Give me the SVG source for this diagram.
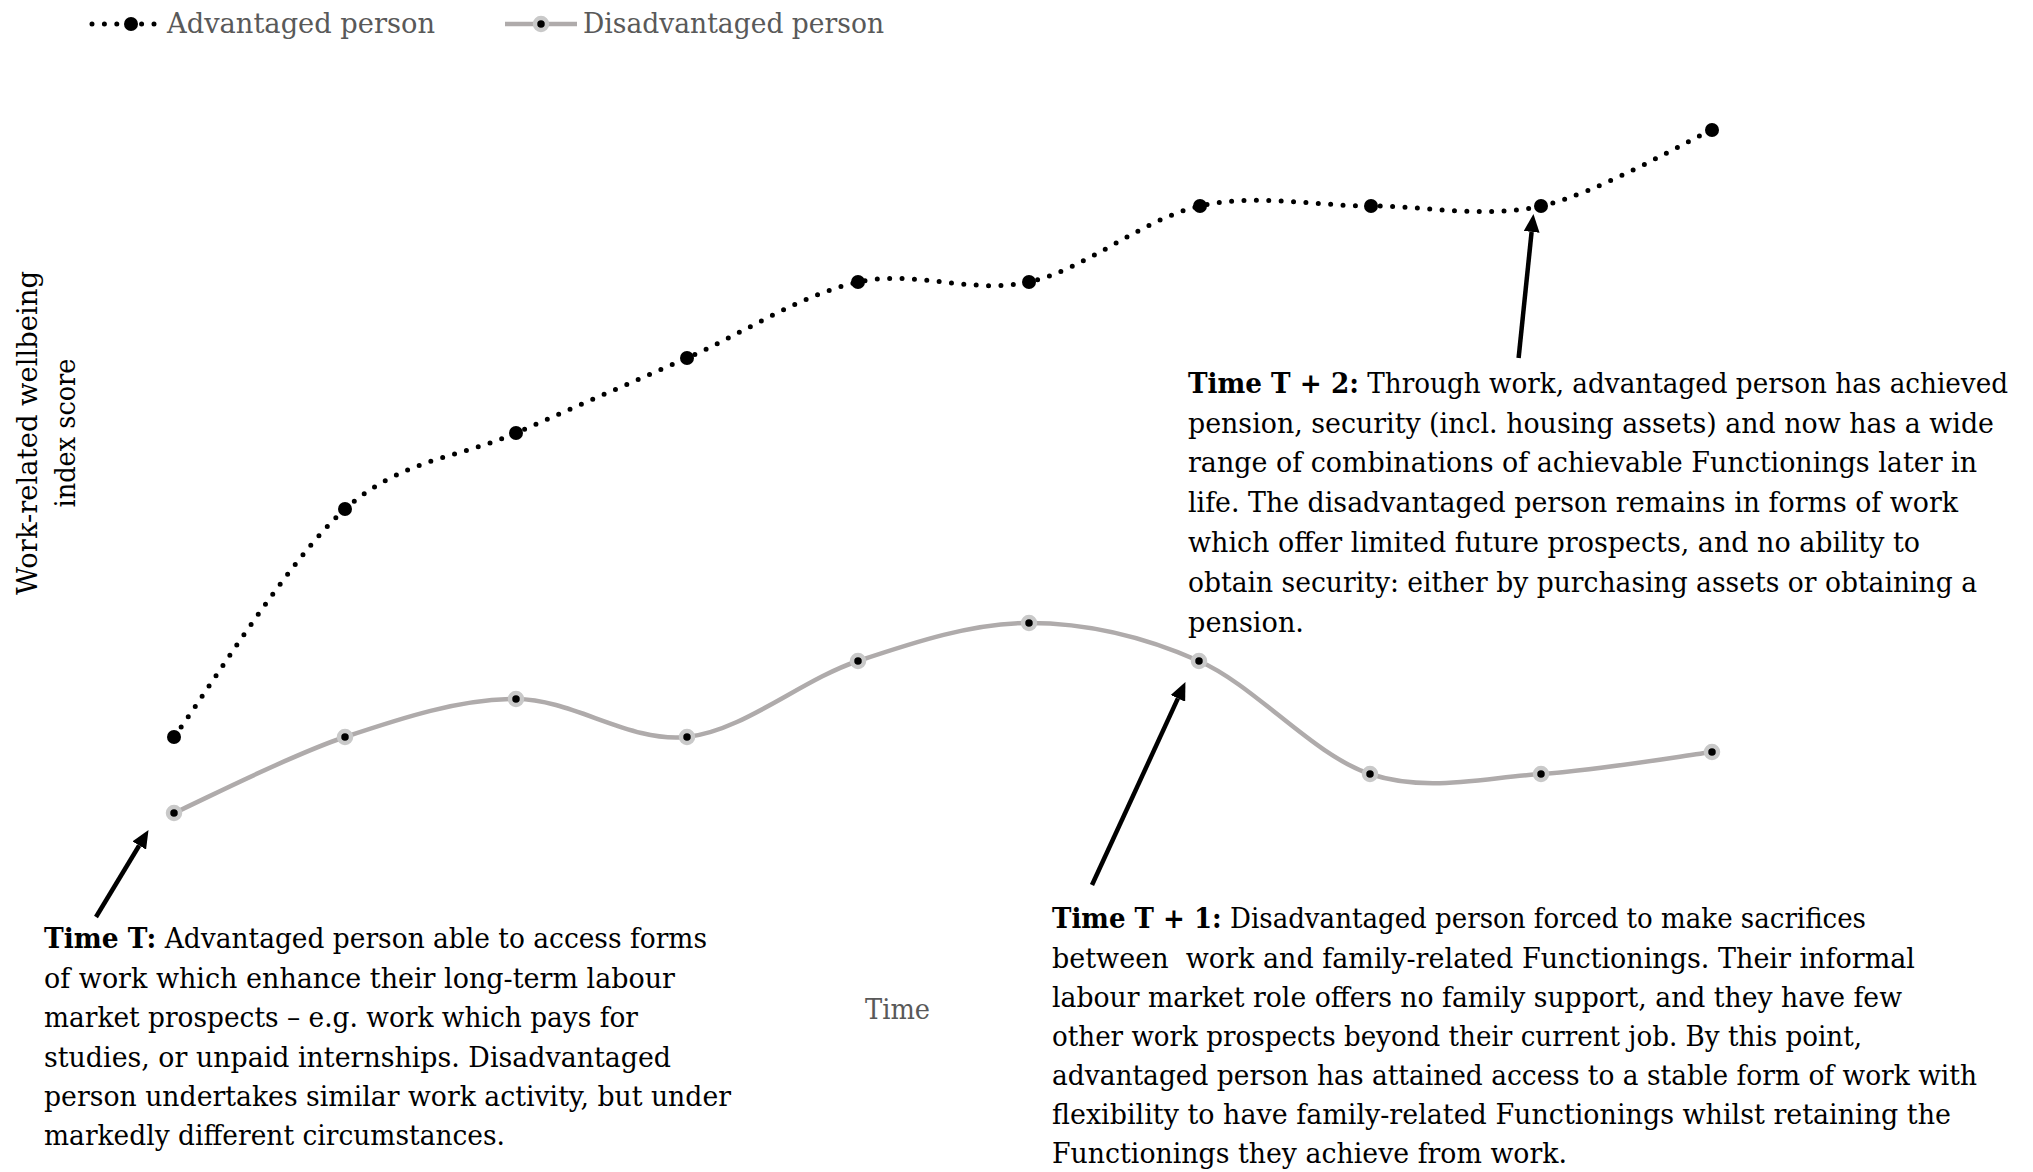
<svg xmlns="http://www.w3.org/2000/svg" width="2033" height="1172" viewBox="0 0 2033 1172">
<defs>
<style>
.t{font-family:"DejaVu Serif","Liberation Serif",serif;font-size:27px;fill:#000}
.b{font-weight:bold}
.g{fill:#595959;font-size:28px}
.adv{fill:none;stroke:#000;stroke-width:5;stroke-linecap:round;stroke-dasharray:0 12.4}
.dis{fill:none;stroke:#AFABAB;stroke-width:4.5}
.am{fill:#000}
.dm{fill:#000;stroke:#C9C9C9;stroke-width:4.5}
.arr{stroke:#000;stroke-width:4.5;fill:none}
</style>
<marker id="ah" markerUnits="userSpaceOnUse" markerWidth="20" markerHeight="16" refX="0" refY="8" orient="auto">
<path d="M0,0 L18,8 L0,16 z" fill="#000"/>
</marker>
</defs>
<rect width="2033" height="1172" fill="#fff"/>

<g id="legend">
<line class="adv" x1="92" y1="24" x2="164" y2="24"/>
<circle class="am" cx="131" cy="24" r="7"/>
<text class="t g" x="167" y="33" textLength="268" lengthAdjust="spacingAndGlyphs">Advantaged person</text>
<line class="dis" x1="505" y1="24" x2="577" y2="24"/>
<circle class="dm" cx="541" cy="24" r="6"/>
<text class="t g" x="583" y="33" textLength="301" lengthAdjust="spacingAndGlyphs">Disadvantaged person</text>
</g>

<g id="axis-y">
<text class="t" font-size="28" transform="translate(37,433) rotate(-90)" text-anchor="middle" textLength="324" lengthAdjust="spacingAndGlyphs">Work-related wellbeing</text>
<text class="t" font-size="28" transform="translate(75,433) rotate(-90)" text-anchor="middle" textLength="149" lengthAdjust="spacingAndGlyphs">index score</text>
</g>
<g id="axis-x">
<text class="t g" x="865" y="1019" textLength="65" lengthAdjust="spacingAndGlyphs">Time</text>
</g>

<g id="series-disadvantaged">
<path class="dis" d="M174,813 C202.5,800.3 288,756 345,737 C402,718 459,699 516,699 C573,699 630,743.3 687,737 C744,730.7 801,680 858,661 C915,642 972.2,623 1029,623 C1085.8,623 1142.2,635.8 1199,661 C1255.8,686.2 1313,755.2 1370,774 C1427,792.8 1484,777.7 1541,774 C1598,770.3 1683.5,755.7 1712,752"/>
<circle class="dm" cx="174" cy="813" r="6"/>
<circle class="dm" cx="345" cy="737" r="6"/>
<circle class="dm" cx="516" cy="699" r="6"/>
<circle class="dm" cx="687" cy="737" r="6"/>
<circle class="dm" cx="858" cy="661" r="6"/>
<circle class="dm" cx="1029" cy="623" r="6"/>
<circle class="dm" cx="1199" cy="661" r="6"/>
<circle class="dm" cx="1370" cy="774" r="6"/>
<circle class="dm" cx="1541" cy="774" r="6"/>
<circle class="dm" cx="1712" cy="752" r="6"/>
</g>

<g id="series-advantaged">
<path class="adv" d="M174,737 C202.5,699 288,559.7 345,509 C402,458.3 459,458.2 516,433 C573,407.8 630,383.2 687,358 C744,332.8 801,294.7 858,282 C915,269.3 972,294.7 1029,282 C1086,269.3 1143,218.7 1200,206 C1257,193.3 1314.2,206 1371,206 C1427.8,206 1484.2,218.7 1541,206 C1597.8,193.3 1683.5,142.7 1712,130"/>
<circle class="am" cx="174" cy="737" r="7"/>
<circle class="am" cx="345" cy="509" r="7"/>
<circle class="am" cx="516" cy="433" r="7"/>
<circle class="am" cx="687" cy="358" r="7"/>
<circle class="am" cx="858" cy="282" r="7"/>
<circle class="am" cx="1029" cy="282" r="7"/>
<circle class="am" cx="1200" cy="206" r="7"/>
<circle class="am" cx="1371" cy="206" r="7"/>
<circle class="am" cx="1541" cy="206" r="7"/>
<circle class="am" cx="1712" cy="130" r="7"/>
</g>

<g id="note-time-t">
<text class="t" x="44" y="948" textLength="663" lengthAdjust="spacingAndGlyphs"><tspan class="b">Time T:</tspan> Advantaged person able to access forms</text>
<text class="t" x="44" y="988" textLength="631" lengthAdjust="spacingAndGlyphs">of work which enhance their long-term labour</text>
<text class="t" x="44" y="1027" textLength="594" lengthAdjust="spacingAndGlyphs">market prospects – e.g. work which pays for</text>
<text class="t" x="44" y="1067" textLength="627" lengthAdjust="spacingAndGlyphs">studies, or unpaid internships. Disadvantaged</text>
<text class="t" x="44" y="1106" textLength="687" lengthAdjust="spacingAndGlyphs">person undertakes similar work activity, but under</text>
<text class="t" x="44" y="1145" textLength="461" lengthAdjust="spacingAndGlyphs">markedly different circumstances.</text>
</g>

<g id="note-time-t1">
<text class="t" x="1052" y="928" textLength="814" lengthAdjust="spacingAndGlyphs"><tspan class="b">Time T + 1:</tspan> Disadvantaged person forced to make sacrifices</text>
<text class="t" x="1052" y="968" textLength="863" lengthAdjust="spacingAndGlyphs" xml:space="preserve">between  work and family-related Functionings. Their informal</text>
<text class="t" x="1052" y="1007" textLength="850" lengthAdjust="spacingAndGlyphs">labour market role offers no family support, and they have few</text>
<text class="t" x="1052" y="1046" textLength="810" lengthAdjust="spacingAndGlyphs">other work prospects beyond their current job. By this point,</text>
<text class="t" x="1052" y="1085" textLength="925" lengthAdjust="spacingAndGlyphs">advantaged person has attained access to a stable form of work with</text>
<text class="t" x="1052" y="1124" textLength="899" lengthAdjust="spacingAndGlyphs">flexibility to have family-related Functionings whilst retaining the</text>
<text class="t" x="1052" y="1163" textLength="515" lengthAdjust="spacingAndGlyphs">Functionings they achieve from work.</text>
</g>

<g id="note-time-t2">
<text class="t" x="1188" y="393" textLength="820" lengthAdjust="spacingAndGlyphs"><tspan class="b">Time T + 2:</tspan> Through work, advantaged person has achieved</text>
<text class="t" x="1188" y="433" textLength="806" lengthAdjust="spacingAndGlyphs">pension, security (incl. housing assets) and now has a wide</text>
<text class="t" x="1188" y="472" textLength="789" lengthAdjust="spacingAndGlyphs">range of combinations of achievable Functionings later in</text>
<text class="t" x="1188" y="512" textLength="770" lengthAdjust="spacingAndGlyphs">life. The disadvantaged person remains in forms of work</text>
<text class="t" x="1188" y="552" textLength="732" lengthAdjust="spacingAndGlyphs">which offer limited future prospects, and no ability to</text>
<text class="t" x="1188" y="592" textLength="789" lengthAdjust="spacingAndGlyphs">obtain security: either by purchasing assets or obtaining a</text>
<text class="t" x="1188" y="632" textLength="116" lengthAdjust="spacingAndGlyphs">pension.</text>
</g>

<g id="connectors">
<line class="arr" x1="96" y1="917" x2="139.2" y2="845.5" marker-end="url(#ah)"/>
<line class="arr" x1="1092" y1="885" x2="1177.9" y2="698.4" marker-end="url(#ah)"/>
<line class="arr" x1="1518.6" y1="358" x2="1531.6" y2="231.9" marker-end="url(#ah)"/>
</g>
</svg>
